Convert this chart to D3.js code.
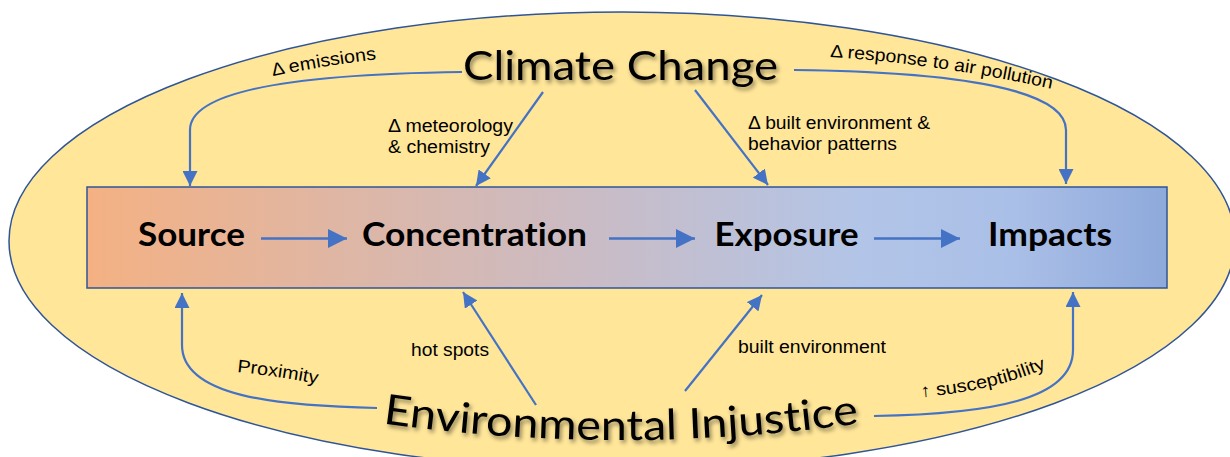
<!DOCTYPE html>
<html>
<head>
<meta charset="utf-8">
<script src="https://cdn.jsdelivr.net/npm/d3@7"></script>
<style>
  html, body { margin: 0; padding: 0; background: #ffffff; }
  svg { display: block; }
  text { font-variant-ligatures: none; }
</style>
</head>
<body>
<div id="chart"></div>
<script>
// ---------------- data ----------------
const stages = ["Source", "Concentration", "Exposure", "Impacts"];
const drivers = ["Climate Change", "Environmental Injustice"];
const climateEffects = ["Δ emissions", "Δ meteorology|& chemistry", "Δ built environment &|behavior patterns", "Δ response to air pollution"];
const injusticeEffects = ["Proximity", "hot spots", "built environment", "↑ susceptibility"];

// ---------------- layout ----------------
const W = 1230, H = 457;
const blue = "#4472C4", dark = "#2F5597";
const stageX = [191.5, 474.5, 786.5, 1050];
const stageLen = [107, 225, 144, 124];
const box = { x0: 87, x1: 1167, y0: 187, y1: 288 };

const svg = d3.select("#chart").append("svg").attr("width", W).attr("height", H);
const defs = svg.append("defs");

const grad = defs.append("linearGradient").attr("id", "g").attr("x1", "0").attr("x2", "1").attr("y1", "0").attr("y2", "0");
[[0, "#F4B183"], [0.45, "#CBBBC3"], [0.72, "#B2C5E8"], [0.86, "#AABFE7"], [1, "#8EA9DB"]].forEach(([o, c]) =>
  grad.append("stop").attr("offset", o).attr("stop-color", c));

const sh = defs.append("filter").attr("id", "shadow").attr("x", "-10%").attr("y", "-30%").attr("width", "120%").attr("height", "160%");
sh.append("feDropShadow").attr("dx", 2).attr("dy", 3).attr("stdDeviation", 2).attr("flood-color", "#000").attr("flood-opacity", 0.45);

function marker(id, w, h) {
  defs.append("marker").attr("id", id).attr("viewBox", "0 0 10 10").attr("refX", 10).attr("refY", 5)
    .attr("markerUnits", "userSpaceOnUse").attr("markerWidth", w).attr("markerHeight", h).attr("orient", "auto")
    .append("path").attr("d", "M0,0L10,5L0,10Z").attr("fill", blue);
}
marker("big", 20, 19);
marker("small", 15, 15);

// ellipse
svg.append("ellipse").attr("cx", 622).attr("cy", 241).attr("rx", 613).attr("ry", 229)
  .attr("fill", "#FFE699").attr("stroke", dark).attr("stroke-width", 1.5);

// box
svg.append("rect").attr("x", box.x0).attr("y", box.y0).attr("width", box.x1 - box.x0).attr("height", box.y1 - box.y0)
  .attr("fill", "url(#g)").attr("stroke", dark).attr("stroke-width", 1.5);

// stage labels
svg.selectAll("text.stage").data(stages).join("text").attr("class", "stage")
  .attr("x", (d, i) => stageX[i]).attr("y", 246).attr("text-anchor", "middle")
  .attr("textLength", (d, i) => stageLen[i]).attr("lengthAdjust", "spacingAndGlyphs")
  .style("font-family", "Lato, 'Open Sans', sans-serif").style("font-weight", 700).style("font-size", "32px")
  .attr("fill", "#000").text(d => d);

// horizontal arrows between stages
const hArrows = [[261, 347], [609, 695], [874, 960]];
svg.selectAll("path.h").data(hArrows).join("path").attr("class", "h")
  .attr("d", d => d3.line()([[d[0], 238.5], [d[1], 238.5]]))
  .attr("stroke", blue).attr("stroke-width", 2.7).attr("fill", "none").attr("marker-end", "url(#big)");

// connector arrows
const conn = [
  "M462,72 C300,74 190,90 190,130 L190,186",
  "M543,92 L476,186",
  "M695,90 L768,185",
  "M794,70 C960,72 1066,90 1066,130 L1066,184",
  "M377,408 C275,406 182,396 182,345 L182,293",
  "M536,405 L463,292",
  "M685,391 L762,295",
  "M874,416 C990,414 1073,400 1073,350 L1073,292"
];
svg.selectAll("path.c").data(conn).join("path").attr("class", "c")
  .attr("d", d => d).attr("stroke", blue).attr("stroke-width", 2.2).attr("fill", "none").attr("marker-end", "url(#small)");

// driver titles
const titleFont = "Lato, 'Open Sans', sans-serif";
svg.append("text").attr("x", 620.5).attr("y", 80).attr("text-anchor", "middle")
  .attr("textLength", 315).attr("lengthAdjust", "spacingAndGlyphs")
  .style("font-family", titleFont).style("font-size", "41px").attr("fill", "#000")
  .attr("filter", "url(#shadow)").text(drivers[0]);

defs.append("path").attr("id", "eiPath").attr("d", "M380,423 Q620,457 862,423");
svg.append("text").attr("filter", "url(#shadow)")
  .style("font-family", titleFont).style("font-size", "42px").attr("fill", "#000")
  .append("textPath").attr("href", "#eiPath").attr("startOffset", "50%").attr("text-anchor", "middle")
  .attr("textLength", 478).attr("lengthAdjust", "spacingAndGlyphs").text(drivers[1]);

// small labels
const labFont = "'Liberation Sans', Arial, sans-serif";
const labSize = "18px";
// curved labels
const curved = [
  { text: climateEffects[0], d: "M273,76 Q322,66 378,59", len: 105 },
  { text: climateEffects[3], d: "M830,57 Q940,64 1052,89", len: 224 },
  { text: injusticeEffects[0], d: "M237,372 Q278,376 318,384", len: 81 },
  { text: injusticeEffects[3], d: "M921,397 Q990,392 1049,367", len: 129 }
];
curved.forEach((c, i) => {
  defs.append("path").attr("id", "cp" + i).attr("d", c.d);
  svg.append("text").style("font-family", labFont).style("font-size", labSize).attr("fill", "#000")
    .append("textPath").attr("href", "#cp" + i).attr("textLength", c.len).attr("lengthAdjust", "spacingAndGlyphs").text(c.text);
});

// straight labels
const straight = [
  { text: climateEffects[1], x: 388, y: 132, lens: [125, 102] },
  { text: climateEffects[2], x: 748, y: 129, lens: [182, 149] },
  { text: injusticeEffects[1], x: 411, y: 356, lens: [78] },
  { text: injusticeEffects[2], x: 738, y: 353, lens: [148] }
];
straight.forEach(s => {
  s.text.split("|").forEach((line, j) => {
    svg.append("text").attr("x", s.x).attr("y", s.y + j * 21)
      .attr("textLength", s.lens[j]).attr("lengthAdjust", "spacingAndGlyphs")
      .style("font-family", labFont).style("font-size", labSize).attr("fill", "#000").text(line);
  });
});
</script>
</body>
</html>
